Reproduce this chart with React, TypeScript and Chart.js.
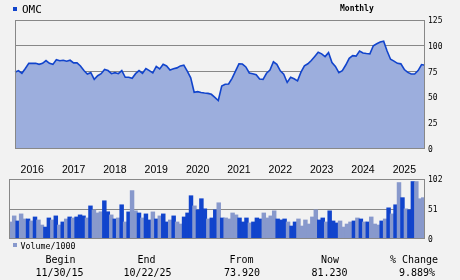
import React, { useEffect, useRef } from "react";
import { Chart, registerables } from "chart.js";

Chart.register(...registerables);

const ticker = "OMC";
const period = "Monthly";
const yearLabels = ["2016", "2017", "2018", "2019", "2020", "2021", "2022", "2023", "2024", "2025"];
const priceTicks = [0, 25, 50, 75, 100, 125];
const volumeTicks = [0, 51, 102];

const closePrices = [
  74.4, 76, 73.4, 78, 83, 83, 83, 82, 83, 85.7,
  83, 82, 86.5, 85.5, 86, 85, 86, 83.5, 83.5, 80.5,
  76, 72.7, 74, 67.5, 71, 73, 77, 76, 73, 74,
  73, 76, 69.5, 69.5, 68.5, 73, 76, 73.4, 78, 76,
  73.7, 80, 77.6, 82.1, 80.5, 76.6, 77.8, 78.6, 80.5, 81.3,
  75.5, 69, 55, 55.6, 54.8, 54.3, 53.9, 53, 50, 47,
  61, 62.7, 63, 68.5, 75.5, 82.5, 82.3, 79.5, 73.7, 73,
  72, 67.9, 67.5, 73.4, 76.5, 84.5, 82, 75.7, 72.5, 64.5,
  69.5, 68, 66, 74.5, 80.5, 82.6, 85.7, 89.7, 93.7, 92.2,
  89.6, 93.4, 83.8, 80, 74, 76, 81.4, 87.8, 90.4, 90,
  95, 93, 92.5, 92.2, 100, 102, 103.6, 104.5, 95, 87,
  85.2, 83, 82.5, 77, 74.2, 72.7, 72.7, 76, 81.8, 81.2,
];

const volumes = [
  28.7, 39, 30.4, 42.4, 33.8, 33.8, 30.4, 37.2, 32.1, 23.5,
  20, 35.5, 32.1, 39, 23.5, 28.7, 33.8, 37.2, 35.5, 37.2,
  40.7, 39, 35.5, 56, 49, 44, 46, 64.7, 46, 40.7,
  33.8, 35.5, 57.9, 28.7, 45.8, 82, 47.6, 44, 35.5, 42.4,
  32.1, 45.8, 33.8, 39, 42.4, 28.7, 32.1, 39, 28.7, 25.2,
  37.2, 44, 73.3, 56, 49.3, 68.2, 51, 33.8, 35.5, 49.3,
  61.3, 35.5, 35.5, 33.8, 44, 40.7, 35.5, 28.7, 35.5, 27,
  28.7, 35.5, 33.8, 44, 35.5, 39, 47.6, 33.8, 32.1, 33.8,
  28.7, 21.8, 28.7, 33.8, 21.8, 32.1, 25.2, 37.2, 49.3, 32.1,
  35.5, 28.7, 47.6, 30.4, 27, 30.4, 20, 25.2, 28.7, 30.4,
  35.5, 33.8, 28.7, 28.7, 37.2, 25.2, 23.5, 30.4, 33.8, 52.7,
  42.4, 57.9, 95.7, 70, 51, 49.3, 97.4, 97.4, 68.2, 70,
];

// 1 = dark bar, 0 = light bar
const volumeShade = [
  0, 0, 1, 0, 0, 1, 0, 1, 0, 0,
  1, 1, 0, 1, 0, 1, 0, 1, 0, 1,
  1, 1, 0, 1, 0, 0, 0, 1, 1, 0,
  1, 0, 1, 0, 1, 0, 0, 1, 0, 1,
  1, 0, 1, 0, 1, 1, 0, 1, 0, 0,
  1, 1, 1, 0, 1, 1, 1, 0, 1, 1,
  0, 1, 0, 0, 0, 0, 1, 1, 1, 0,
  1, 1, 1, 0, 0, 0, 0, 1, 1, 1,
  0, 1, 1, 0, 0, 0, 0, 0, 0, 1,
  1, 0, 1, 1, 1, 0, 0, 0, 0, 1,
  0, 1, 0, 1, 0, 0, 0, 1, 0, 1,
  0, 1, 0, 1, 0, 1, 1, 0, 0, 0,
];

const summaryHeads = ["Begin", "End", "From", "Now", "% Change"];
const summaryValues = ["11/30/15", "10/22/25", "73.920", "81.230", "9.889%"];

const monthLabels: string[] = [];
for (let i = 0; i < closePrices.length; i++) {
  const m = 10 + i;
  const y = 2015 + Math.floor(m / 12);
  const mm = (m % 12) + 1;
  monthLabels.push(`${y}-${String(mm).padStart(2, "0")}`);
}

const DARK = "#1144cc";
const LIGHT = "#8899cc";
const FILL = "#9caedd";
const GRID = "#888888";
const BG = "#f2f2f2";
const MONO = "'DejaVu Sans Mono', monospace";

const framePlugin = {
  id: "frame",
  afterDraw(chart: any) {
    const { ctx, chartArea } = chart;
    const { left, top, right, bottom } = chartArea;
    ctx.save();
    ctx.strokeStyle = GRID;
    ctx.lineWidth = 1;
    ctx.strokeRect(Math.round(left) + 0.5, Math.round(top) + 0.5, Math.round(right - left) - 1, Math.round(bottom - top) - 1);
    ctx.restore();
  },
};

function PriceChart() {
  const ref = useRef<HTMLCanvasElement | null>(null);
  useEffect(() => {
    if (!ref.current) return;
    const chart = new Chart(ref.current, {
      type: "line",
      data: {
        labels: monthLabels,
        datasets: [
          {
            data: closePrices,
            borderColor: DARK,
            borderWidth: 1.6,
            backgroundColor: FILL,
            fill: "origin",
            pointRadius: 0,
            tension: 0,
          },
        ],
      },
      options: {
        responsive: false,
        animation: false,
        events: [],
        layout: { padding: { left: 9, top: 20, right: 0, bottom: 0 } },
        plugins: { legend: { display: false }, tooltip: { enabled: false } },
        scales: {
          x: {
            type: "category",
            offset: false,
            grid: { display: false, drawTicks: false },
            border: { display: false },
            afterFit(scale: any) {
              scale.height = 31;
            },
            ticks: {
              autoSkip: false,
              maxRotation: 0,
              padding: 15,
              color: "#000",
              font: { family: "'Liberation Sans', Arial, sans-serif", size: 10.5 },
              callback(_v: any, idx: number) {
                const lab = monthLabels[idx];
                if (lab && lab.endsWith("-04")) {
                  const yr = lab.slice(0, 4);
                  return yearLabels.includes(yr) ? yr : "";
                }
                return "";
              },
            },
          },
          y: {
            position: "right",
            min: 0,
            max: 125,
            afterBuildTicks(scale: any) {
              scale.ticks = priceTicks.map((v) => ({ value: v }));
            },
            afterFit(scale: any) {
              scale.width = 35;
            },
            grid: {
              drawTicks: false,
              color: (c: any) => (c.tick && (c.tick.value === 75 || c.tick.value === 100) ? GRID : "rgba(0,0,0,0)"),
            },
            border: { display: false },
            ticks: {
              padding: 3,
              labelOffset: 1,
              color: "#000",
              font: { family: MONO, size: 8 },
            },
          },
        },
      },
      plugins: [framePlugin],
    });
    return () => chart.destroy();
  }, []);
  return <canvas ref={ref} width={460} height={180} style={{ position: "absolute", left: 0, top: 0, width: 460, height: 180 }} />;
}

function VolumeChart() {
  const ref = useRef<HTMLCanvasElement | null>(null);
  useEffect(() => {
    if (!ref.current) return;
    const chart = new Chart(ref.current, {
      type: "bar",
      data: {
        labels: monthLabels,
        datasets: [
          {
            data: volumes,
            backgroundColor: volumeShade.map((s) => (s ? DARK : LIGHT)),
            borderWidth: 0,
            barPercentage: 1,
            categoryPercentage: 1,
            inflateAmount: 0.5,
          },
        ],
      },
      options: {
        responsive: false,
        animation: false,
        events: [],
        layout: { padding: { left: 9, top: 9, right: 0, bottom: 11 } },
        plugins: { legend: { display: false }, tooltip: { enabled: false } },
        scales: {
          x: { display: false },
          y: {
            position: "right",
            min: 0,
            max: 102,
            afterBuildTicks(scale: any) {
              scale.ticks = volumeTicks.map((v) => ({ value: v }));
            },
            afterFit(scale: any) {
              scale.width = 35;
            },
            grid: {
              drawTicks: false,
              color: (c: any) => (c.tick && c.tick.value === 51 ? GRID : "rgba(0,0,0,0)"),
            },
            border: { display: false },
            ticks: {
              padding: 3,
              labelOffset: 1,
              color: "#000",
              font: { family: MONO, size: 8 },
            },
          },
        },
      },
      plugins: [framePlugin],
    });
    return () => chart.destroy();
  }, []);
  return <canvas ref={ref} width={460} height={80} style={{ position: "absolute", left: 0, top: 170, width: 460, height: 80 }} />;
}

const headCenters = [60.5, 146.5, 241.5, 330, 414];
const valueCenters = [59.5, 147.5, 242, 329.5, 417];

export default function App() {
  const textBase: React.CSSProperties = {
    position: "absolute",
    whiteSpace: "nowrap",
    fontFamily: MONO,
    color: "#000",
    lineHeight: "1",
  };
  return (
    <div style={{ position: "fixed", left: 0, top: 0, width: 460, height: 280, background: BG, overflow: "hidden" }}>
      <PriceChart />
      <VolumeChart />
      <div style={{ position: "absolute", left: 13, top: 7, width: 4, height: 4, background: DARK }} />
      <div style={{ ...textBase, left: 22, top: 9, fontSize: 11, transform: "translateY(-50%)" }}>{ticker}</div>
      <div style={{ ...textBase, left: 340, top: 9, fontSize: 8, fontWeight: "bold", transform: "translateY(-50%)" }}>{period}</div>
      <div style={{ position: "absolute", left: 13, top: 243, width: 4, height: 4, background: LIGHT }} />
      <div style={{ ...textBase, left: 20.5, top: 245.5, fontSize: 8.3, transform: "translateY(-50%)" }}>Volume/1000</div>
      {summaryHeads.map((h, i) => (
        <div key={"h" + i} style={{ ...textBase, left: headCenters[i], top: 259.5, fontSize: 10, transform: "translate(-50%,-50%)" }}>
          {h}
        </div>
      ))}
      {summaryValues.map((v, i) => (
        <div key={"v" + i} style={{ ...textBase, left: valueCenters[i], top: 272.5, fontSize: 10, transform: "translate(-50%,-50%)" }}>
          {v}
        </div>
      ))}
    </div>
  );
}
